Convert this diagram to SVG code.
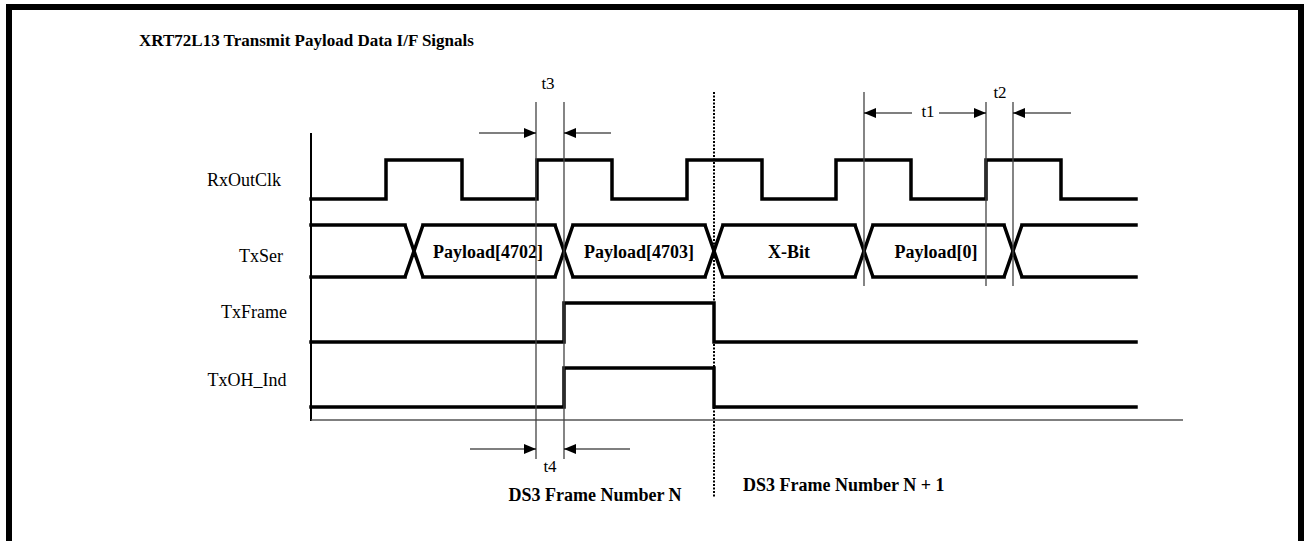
<svg xmlns="http://www.w3.org/2000/svg" width="1304" height="541" viewBox="0 0 1304 541">
<defs>
<marker id="ah" viewBox="0 0 12 10" refX="12" refY="5" markerWidth="12" markerHeight="10" markerUnits="userSpaceOnUse" orient="auto">
<path d="M0,0 L12,5 L0,10 Z" fill="#000"/>
</marker>
<style>
.sig{fill:none;stroke:#000;stroke-width:3.5;stroke-linejoin:miter;stroke-linecap:square}
.guide{fill:none;stroke:#444;stroke-width:1.3}
.arr{fill:none;stroke:#000;stroke-width:1.2;marker-end:url(#ah)}
.lbl{font-family:"Liberation Serif","Times New Roman",serif;font-size:18px;fill:#000}
.b{font-weight:bold}
.tl{font-family:"Liberation Serif","Times New Roman",serif;font-size:17px;fill:#000;text-anchor:middle}
</style>
</defs>
<rect x="9" y="7" width="1292" height="580" fill="#fff" stroke="#000" stroke-width="6"/>
<text class="lbl b" x="139" y="46" style="font-size:17px">XRT72L13 Transmit Payload Data I/F Signals</text>

<g id="axes">
<path d="M311,133 V421" stroke="#000" stroke-width="2" fill="none"/>
<path d="M311,420 H1183" stroke="#555" stroke-width="1.6" fill="none"/>
</g>

<g id="RxOutClk">
<text class="lbl" x="244" y="186" text-anchor="middle">RxOutClk</text>
<path class="sig" d="M311,199 H386 V160 H462 V199 H537 V160 H612 V199 H687 V160 H762 V199 H836 V160 H911 V199 H986 V160 H1061 V199 H1136"/>
</g>

<g id="TxSer">
<text class="lbl" x="261" y="262" text-anchor="middle">TxSer</text>
<path class="sig" d="M311,225 H405 M423,225 H555 M573,225 H705 M723,225 H855 M873,225 H1004 M1022,225 H1136 M311,277 H405 M423,277 H555 M573,277 H705 M723,277 H855 M873,277 H1004 M1022,277 H1136"/>
<path class="sig" style="stroke-linecap:butt" d="M405,225 L423,277 M405,277 L423,225 M555,225 L573,277 M555,277 L573,225 M705,225 L723,277 M705,277 L723,225 M855,225 L873,277 M855,277 L873,225 M1004,225 L1022,277 M1004,277 L1022,225"/>
<text class="lbl b" x="488" y="258" text-anchor="middle">Payload[4702]</text>
<text class="lbl b" x="639" y="258" text-anchor="middle">Payload[4703]</text>
<text class="lbl b" x="789" y="258" text-anchor="middle">X-Bit</text>
<text class="lbl b" x="936" y="258" text-anchor="middle">Payload[0]</text>
</g>

<g id="TxFrame">
<text class="lbl" x="254" y="318" text-anchor="middle">TxFrame</text>
<path class="sig" d="M311,342 H564 V303 H714 V342 H1136"/>
</g>

<g id="TxOH_Ind">
<text class="lbl" x="247" y="386" text-anchor="middle">TxOH_Ind</text>
<path class="sig" d="M311,407 H564 V368 H714 V407 H1136"/>
</g>

<g id="connectors">
<path class="guide" d="M536,102 V459 M564,102 V459 M864,92 V286 M986,102 V286 M1013,102 V286"/>
<path d="M714,92 V498" fill="none" stroke="#000" stroke-width="2" stroke-dasharray="2,1.5"/>
<path class="arr" d="M479,133 H536"/>
<path class="arr" d="M611,133 H564"/>
<path class="arr" d="M912,113 H864"/>
<path class="arr" d="M939,113 H986"/>
<path class="arr" d="M1071,113 H1013"/>
<path class="arr" d="M470,449 H536"/>
<path class="arr" d="M630,449 H564"/>
</g>

<g id="labels">
<text class="tl" x="548" y="89">t3</text>
<text class="tl" x="928" y="117">t1</text>
<text class="tl" x="1000" y="98">t2</text>
<text class="tl" x="550" y="472">t4</text>
<text class="lbl b" x="595" y="501" text-anchor="middle">DS3 Frame Number N</text>
<text class="lbl b" x="743" y="491">DS3 Frame Number N + 1</text>
</g>
</svg>
